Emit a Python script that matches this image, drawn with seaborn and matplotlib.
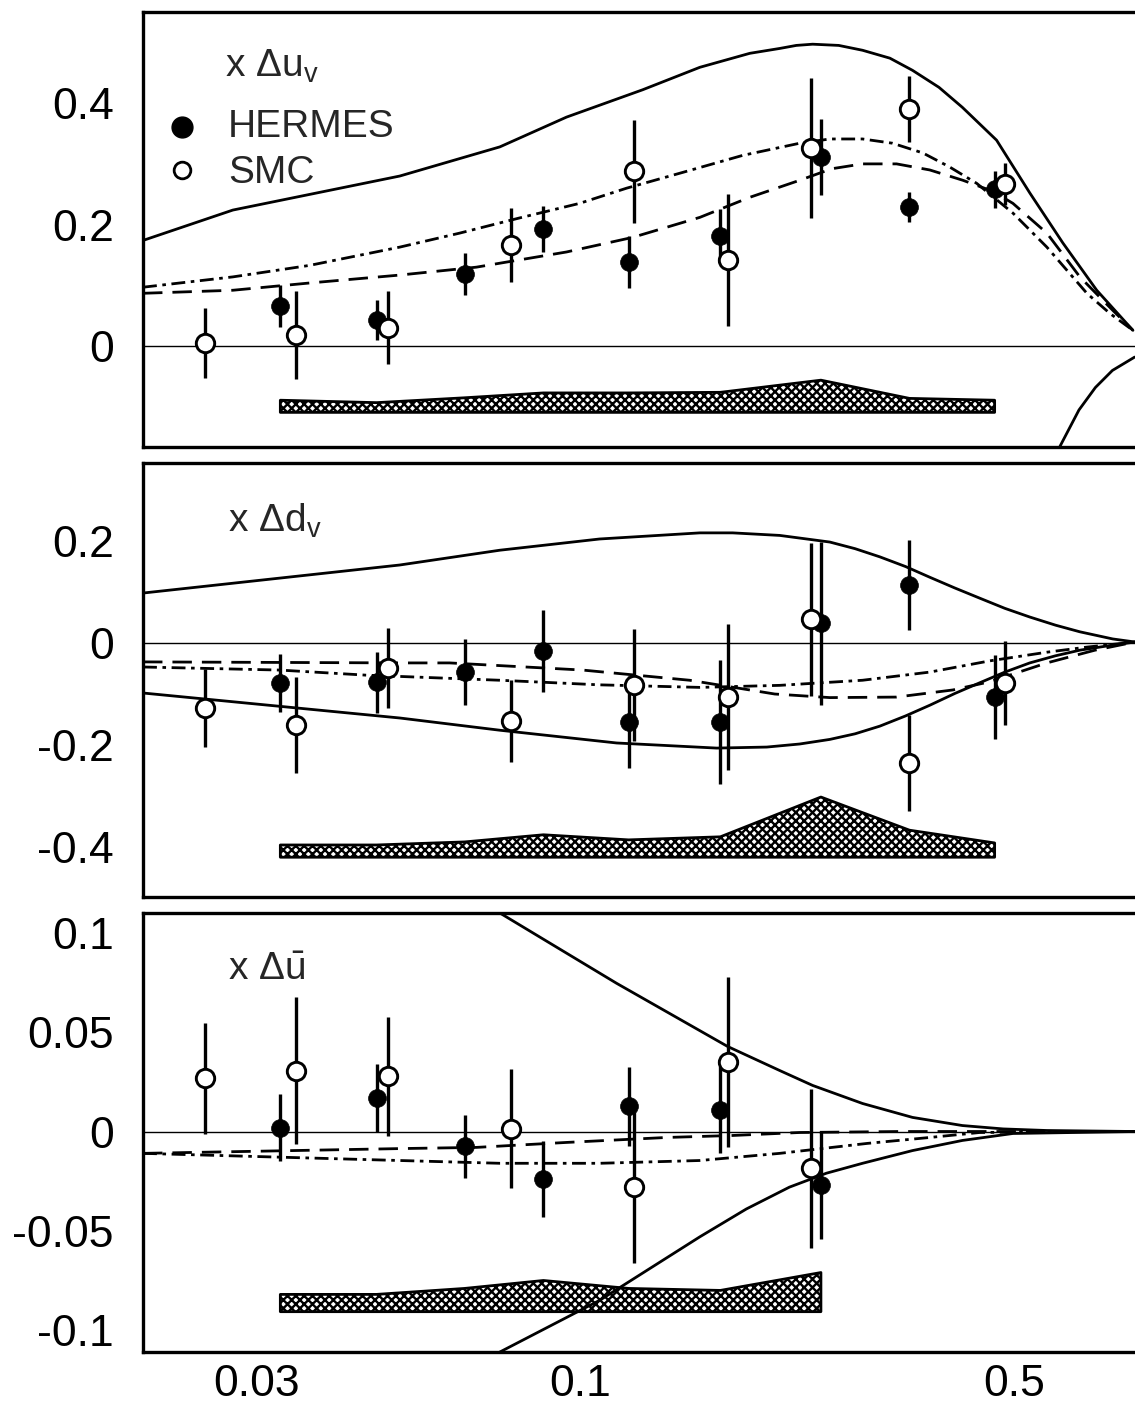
"""
Valence and sea quark polarisation: HERMES / SMC points with fit curves
"""

import matplotlib
matplotlib.use('Agg')
import matplotlib.pyplot as plt
from matplotlib.ticker import FixedLocator, FixedFormatter, NullFormatter
import seaborn as sns

sns.set_style('white')
plt.rcParams['font.family'] = ['Liberation Sans', 'DejaVu Sans']
plt.rcParams['mathtext.fontset'] = 'custom'
plt.rcParams['mathtext.rm'] = 'Liberation Sans'
plt.rcParams['mathtext.it'] = 'Liberation Sans'
plt.rcParams['mathtext.default'] = 'regular'
plt.rcParams['axes.unicode_minus'] = False
plt.rcParams['hatch.linewidth'] = 1.7

# ─────────────────────────────────────────────
# data
# ─────────────────────────────────────────────
hermes_x = [0.0328, 0.0469, 0.065, 0.0871, 0.1195, 0.168, 0.244, 0.339, 0.465]
smc_x = [0.0248, 0.0348, 0.049, 0.0771, 0.122, 0.173, 0.235, 0.339, 0.483]

# x Delta u_v
hermes_uv = [0.066, 0.043, 0.119, 0.193, 0.138, 0.181, 0.311, 0.229, 0.258]
hermes_uv_err = [0.035, 0.033, 0.035, 0.038, 0.043, 0.045, 0.063, 0.025, 0.030]
smc_uv = [0.005, 0.018, 0.030, 0.166, 0.288, 0.142, 0.326, 0.390, 0.267]
smc_uv_err = [0.058, 0.072, 0.060, 0.061, 0.085, 0.109, 0.115, 0.054, 0.035]
band_uv_top = [-0.089, -0.093, -0.085, -0.077, -0.077, -0.076, -0.056, -0.086, -0.089]
band_uv_low = -0.109

uv_solid_x = [0.0197, 0.0275, 0.0511, 0.0741, 0.0949, 0.1259, 0.1557, 0.1874, 0.2094,
              0.2227, 0.2366, 0.2607, 0.2848, 0.3152, 0.3428, 0.3782, 0.4126, 0.4684,
              0.530, 0.5989, 0.6793, 0.7771]
uv_solid_y = [0.174, 0.224, 0.280, 0.328, 0.377, 0.422, 0.459, 0.482, 0.490,
              0.495, 0.497, 0.495, 0.487, 0.474, 0.454, 0.426, 0.393, 0.339,
              0.252, 0.170, 0.092, 0.026]
uv_low_x = [0.570, 0.594, 0.636, 0.676, 0.720, 0.782]
uv_low_y = [-0.200, -0.163, -0.105, -0.068, -0.040, -0.018]
uv_dashdot_x = [0.0197, 0.0275, 0.0366, 0.0511, 0.0638, 0.0797, 0.0996, 0.1186, 0.1461,
                0.1825, 0.2255, 0.2522, 0.2848, 0.3183, 0.3562, 0.3933, 0.4350, 0.4977,
                0.5645, 0.6549, 0.7130, 0.777]
uv_dashdot_y = [0.097, 0.114, 0.133, 0.163, 0.186, 0.211, 0.235, 0.260, 0.286,
                0.314, 0.334, 0.341, 0.341, 0.334, 0.318, 0.295, 0.268, 0.219,
                0.163, 0.087, 0.054, 0.026]
uv_dashed_x = [0.0197, 0.0275, 0.0366, 0.0511, 0.0679, 0.0949, 0.1213, 0.1557, 0.1874,
               0.2255, 0.2540, 0.2848, 0.3231, 0.3655, 0.4133, 0.4616, 0.4977, 0.5645,
               0.6381, 0.7209, 0.777]
uv_dashed_y = [0.087, 0.092, 0.104, 0.117, 0.130, 0.155, 0.179, 0.212, 0.245,
               0.273, 0.292, 0.300, 0.300, 0.290, 0.273, 0.255, 0.235, 0.186,
               0.114, 0.059, 0.026]

# x Delta d_v
hermes_dv = [-0.078, -0.077, -0.057, -0.016, -0.155, -0.155, 0.039, 0.114, -0.106]
hermes_dv_err = [0.057, 0.060, 0.065, 0.081, 0.090, 0.122, 0.160, 0.088, 0.082]
smc_dv = [-0.127, -0.161, -0.049, -0.153, -0.082, -0.106, 0.047, -0.235, -0.079]
smc_dv_err = [0.077, 0.094, 0.078, 0.080, 0.110, 0.143, 0.150, 0.094, 0.082]
band_dv_top = [-0.396, -0.396, -0.390, -0.376, -0.386, -0.380, -0.302, -0.367, -0.392]
band_dv_low = -0.42

dv_upper_x = [0.0197, 0.0511, 0.0741, 0.1073, 0.1557, 0.1758, 0.2094, 0.2522, 0.2770,
              0.3036, 0.3340, 0.3655, 0.4010, 0.4399, 0.4830, 0.5298, 0.5830, 0.6381,
              0.7209, 0.783]
dv_upper_y = [0.098, 0.153, 0.182, 0.204, 0.216, 0.216, 0.211, 0.198, 0.185,
              0.169, 0.150, 0.129, 0.108, 0.088, 0.068, 0.051, 0.035, 0.022,
              0.008, 0.002]
dv_lower_x = [0.0197, 0.0511, 0.0741, 0.1143, 0.1657, 0.1996, 0.2255, 0.2522, 0.2770,
              0.3036, 0.3340, 0.3655, 0.4010, 0.4399, 0.4830, 0.5298, 0.5830, 0.6381,
              0.7209, 0.783]
dv_lower_y = [-0.098, -0.147, -0.171, -0.196, -0.206, -0.204, -0.198, -0.189, -0.178,
              -0.163, -0.143, -0.122, -0.099, -0.078, -0.057, -0.039, -0.025, -0.014,
              -0.004, 0.002]
dv_dashed_x = [0.0197, 0.0511, 0.0615, 0.1007, 0.1499, 0.2056, 0.2522, 0.3231, 0.3983,
               0.4564, 0.5645, 0.6750, 0.783]
dv_dashed_y = [-0.037, -0.039, -0.039, -0.053, -0.073, -0.100, -0.107, -0.106, -0.092,
               -0.076, -0.039, -0.014, 0.002]
dv_dashdot_x = [0.0197, 0.0327, 0.0451, 0.0741, 0.1073, 0.1557, 0.2094, 0.2848, 0.3655,
                0.4566, 0.5645, 0.6549, 0.783]
dv_dashdot_y = [-0.047, -0.053, -0.063, -0.073, -0.082, -0.087, -0.083, -0.073, -0.057,
                -0.035, -0.018, -0.008, 0.002]

# x Delta u-bar
hermes_ub = [0.002, 0.017, -0.0075, -0.024, 0.0126, 0.011, -0.027]
hermes_ub_err = [0.017, 0.017, 0.016, 0.019, 0.020, 0.022, 0.027]
smc_ub = [0.0267, 0.0307, 0.0277, 0.0015, -0.028, 0.035, -0.0186]
smc_ub_err = [0.028, 0.037, 0.030, 0.030, 0.038, 0.043, 0.040]
band_ub_top = [-0.082, -0.082, -0.079, -0.075, -0.079, -0.080, -0.071]
band_ub_low = -0.0907

ub_upper_x = [0.05, 0.0741, 0.1143, 0.1726, 0.2094, 0.2366, 0.2848, 0.3428, 0.4126,
              0.4800, 0.5645, 0.783]
ub_upper_y = [0.142, 0.110, 0.0746, 0.0428, 0.0307, 0.0232, 0.0141, 0.0071, 0.0030,
              0.0013, 0.0005, 0.0]
ub_lower_x = [0.06, 0.0741, 0.1073, 0.1557, 0.1850, 0.2171, 0.2490, 0.2848, 0.3428,
              0.4126, 0.4977, 0.783]
ub_lower_y = [-0.13, -0.111, -0.085, -0.053, -0.039, -0.028, -0.021, -0.016, -0.0096,
              -0.0045, -0.001, 0.0]
ub_dashed_x = [0.0197, 0.0511, 0.0679, 0.0949, 0.1376, 0.1758, 0.2255, 0.3273, 0.783]
ub_dashed_y = [-0.011, -0.0086, -0.008, -0.0055, -0.003, -0.002, -0.0005, 0.0, 0.0]
ub_dashdot_x = [0.0197, 0.0511, 0.0741, 0.1073, 0.1557, 0.2094, 0.2896, 0.3655, 0.4399,
                0.6381, 0.783]
ub_dashdot_y = [-0.011, -0.0146, -0.016, -0.016, -0.0146, -0.011, -0.006, -0.003, -0.0005,
                0.0, 0.0]

# ─────────────────────────────────────────────
# styles
# ─────────────────────────────────────────────
LW = 2.0
SOLID = '-'
DASHED = (0, (7, 3.6))
DASHDOT = (0, (5.0, 2.0, 1.3, 2.0))
FS_TICK = 32
FS_TEXT = 28

W, H = 1135, 1411
fig = plt.figure(figsize=(W / 100, H / 100), dpi=100)


def frame(top_px, bot_px):
    return [143 / W, 1 - bot_px / H, (W - 143) / W, (bot_px - top_px) / H]


def curve(ax, xs, ys, ls):
    sns.lineplot(x=xs, y=ys, ax=ax, color='black', lw=LW, linestyle=ls,
                 estimator=None, errorbar=None, sort=False, zorder=2)


def points(ax, x, y, yerr, filled):
    ax.errorbar(x, y, yerr=yerr, fmt='none', ecolor='black', elinewidth=2.4,
                capsize=0, zorder=3)
    if filled:
        sns.scatterplot(x=x, y=y, ax=ax, color='black', edgecolor='black',
                        s=165, linewidth=0.5, zorder=4, legend=False)
    else:
        sns.scatterplot(x=x, y=y, ax=ax, color='white', edgecolor='black',
                        s=175, linewidth=2.1, zorder=5, legend=False)


def band(ax, xs, top, low):
    ax.fill_between(xs, [low] * len(xs), top, facecolor='white', edgecolor='black',
                    hatch='xxxx', linewidth=2.0, zorder=1)


def style_axes(ax, ylim, major, major_labels, minor, show_x):
    ax.set_xscale('log')
    ax.set_xlim(0.0197, 0.783)
    ax.set_ylim(*ylim)
    ax.axhline(0, color='black', lw=1.0, zorder=1)
    for side in ['left', 'bottom', 'top']:
        ax.spines[side].set_linewidth(2.4)
        ax.spines[side].set_color('black')
    ax.spines['right'].set_visible(False)

    ax.yaxis.set_major_locator(FixedLocator(major))
    ax.yaxis.set_major_formatter(FixedFormatter(major_labels))
    ax.yaxis.set_minor_locator(FixedLocator(minor))

    ax.xaxis.set_major_locator(FixedLocator([0.1]))
    ax.xaxis.set_minor_locator(FixedLocator(
        [0.03, 0.04, 0.05, 0.06, 0.07, 0.08, 0.09, 0.2, 0.3, 0.4, 0.5, 0.6, 0.7]))
    if show_x:
        ax.xaxis.set_major_formatter(FixedFormatter(['0.1']))
        ax.xaxis.set_minor_formatter(FixedFormatter(
            ['0.03', '', '', '', '', '', '', '', '', '', '0.5', '', '']))
    else:
        ax.xaxis.set_major_formatter(NullFormatter())
        ax.xaxis.set_minor_formatter(NullFormatter())

    ax.tick_params(axis='both', which='both', direction='in', top=False, right=False,
                   colors='black', labelsize=FS_TICK)
    ax.tick_params(axis='both', which='major', length=14, width=1.1)
    ax.tick_params(axis='both', which='minor', length=7, width=1.0)
    ax.tick_params(axis='y', which='both', pad=21)
    ax.tick_params(axis='x', which='both', pad=9)
    ax.set_xlabel('')
    ax.set_ylabel('')


# ─────────────────────────────────────────────
# panel 1: x Delta u_v
# ─────────────────────────────────────────────
ax1 = fig.add_axes(frame(12, 447))
band(ax1, hermes_x, band_uv_top, band_uv_low)
curve(ax1, uv_solid_x, uv_solid_y, SOLID)
curve(ax1, uv_low_x, uv_low_y, SOLID)
curve(ax1, uv_dashed_x, uv_dashed_y, DASHED)
curve(ax1, uv_dashdot_x, uv_dashdot_y, DASHDOT)
points(ax1, hermes_x, hermes_uv, hermes_uv_err, True)
points(ax1, smc_x, smc_uv, smc_uv_err, False)
style_axes(ax1, (-0.166, 0.55), [0, 0.2, 0.4], ['0', '0.2', '0.4'],
           [-0.15, -0.1, -0.05, 0.05, 0.1, 0.15, 0.25, 0.3, 0.35, 0.45, 0.5], False)
ax1.text(0.0827, 0.8506, r'x $\Delta u_v$', transform=ax1.transAxes,
         fontsize=FS_TEXT, va='baseline', ha='left')
ax1.plot([0.0393], [0.7356], 'o', transform=ax1.transAxes, ms=15, color='black',
         clip_on=False)
ax1.plot([0.0393], [0.6368], 'o', transform=ax1.transAxes, ms=12, mfc='white',
         mec='black', mew=2.0, clip_on=False)
ax1.text(0.0857, 0.7126, 'HERMES', transform=ax1.transAxes, fontsize=FS_TEXT,
         va='baseline', ha='left')
ax1.text(0.0857, 0.607, 'SMC', transform=ax1.transAxes, fontsize=FS_TEXT,
         va='baseline', ha='left')

# ─────────────────────────────────────────────
# panel 2: x Delta d_v
# ─────────────────────────────────────────────
ax2 = fig.add_axes(frame(463, 897))
band(ax2, hermes_x, band_dv_top, band_dv_low)
curve(ax2, dv_upper_x, dv_upper_y, SOLID)
curve(ax2, dv_lower_x, dv_lower_y, SOLID)
curve(ax2, dv_dashed_x, dv_dashed_y, DASHED)
curve(ax2, dv_dashdot_x, dv_dashdot_y, DASHDOT)
points(ax2, hermes_x, hermes_dv, hermes_dv_err, True)
points(ax2, smc_x, smc_dv, smc_dv_err, False)
style_axes(ax2, (-0.498, 0.353), [-0.4, -0.2, 0, 0.2], ['-0.4', '-0.2', '0', '0.2'],
           [-0.45, -0.35, -0.3, -0.25, -0.15, -0.1, -0.05, 0.05, 0.1, 0.15, 0.25, 0.3, 0.35],
           False)
ax2.text(0.0857, 0.841, r'x $\Delta d_v$', transform=ax2.transAxes,
         fontsize=FS_TEXT, va='baseline', ha='left')

# ─────────────────────────────────────────────
# panel 3: x Delta u-bar
# ─────────────────────────────────────────────
ax3 = fig.add_axes(frame(913, 1352))
band(ax3, hermes_x[:7], band_ub_top, band_ub_low)
curve(ax3, ub_upper_x, ub_upper_y, SOLID)
curve(ax3, ub_lower_x, ub_lower_y, SOLID)
curve(ax3, ub_dashed_x, ub_dashed_y, DASHED)
curve(ax3, ub_dashdot_x, ub_dashdot_y, DASHDOT)
points(ax3, hermes_x[:7], hermes_ub, hermes_ub_err, True)
points(ax3, smc_x[:7], smc_ub, smc_ub_err, False)
ub_minor = [-0.11, -0.09, -0.08, -0.07, -0.06, -0.04, -0.03, -0.02, -0.01,
            0.01, 0.02, 0.03, 0.04, 0.06, 0.07, 0.08, 0.09]
style_axes(ax3, (-0.111, 0.110), [-0.1, -0.05, 0, 0.05, 0.1],
           ['-0.1', '-0.05', '0', '0.05', '0.1'], ub_minor, True)
ax3.text(0.0857, 0.847, r'x $\Delta\bar{u}$', transform=ax3.transAxes,
         fontsize=FS_TEXT, va='baseline', ha='left')

plt.savefig('out.png', dpi=100)
plt.close()
